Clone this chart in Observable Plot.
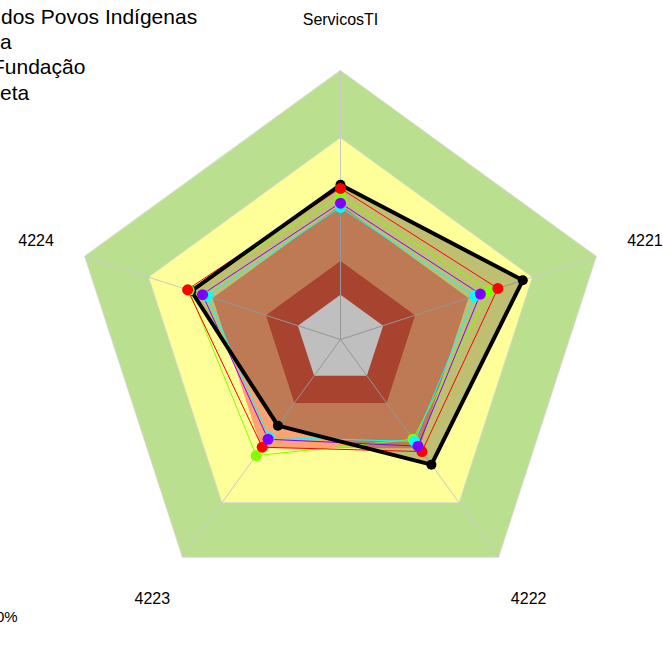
<!DOCTYPE html>
<html><head><meta charset="utf-8">
<script src="https://cdn.jsdelivr.net/npm/d3@7"></script>
<script src="https://cdn.jsdelivr.net/npm/@observablehq/plot@0.6"></script>
<style>
html,body{margin:0;padding:0;background:#fff;overflow:hidden}
#wrap{position:relative;width:663px;height:666px;overflow:hidden;font-family:"Liberation Sans",Arial,sans-serif}
#wrap svg{position:absolute;left:0;top:0}
.t{position:absolute;color:#000;white-space:nowrap;line-height:1;z-index:2}
</style></head><body><div id="wrap"></div>
<script>
// ---- data ----
const axes = ["ServicosTI", "4221", "4222", "4223", "4224"];
const seriesNames = ["Série preta", "Série verde", "Série vermelha", "Série ciano", "Série roxa"];
const seriesColors = ["#000000", "#80FF00", "#FF0000", "#00FFFF", "#8000FF"];
const blackVals  = [0.49, 0.655, 0.49, 0.275, 0.50];
const greenVals  = [0.438, 0.50, 0.35, 0.44, 0.51];
const redVals    = [0.474, 0.538, 0.418, 0.394, 0.517];
const cyanVals   = [0.389, 0.43, 0.362, 0.34, 0.425];
const purpleVals = [0.408, 0.456, 0.388, 0.35, 0.447];
const bandBreaks = [1.0, 0.7, 0.4, 0.15, 0.0];
const bandColors = ["#BAE08F", "#FFFF99", "#FDA372", "#DF5A3E", "#FFFFFF"];
const titleLines = ["dos Povos Indígenas", "a", "Fundação", "eta"];
const cornerNote = "0%";

// ---- geometry helpers (fmsb-like: value v at radius (1+5v)/6) ----
const rad = v => (1 + 5 * v) / 6;
const ang = i => (90 - 72 * i) * Math.PI / 180;
const pt = (i, r) => ({x: r * Math.cos(ang(i)), y: r * Math.sin(ang(i))});
const ring = (vals, extra = {}) => vals.map((v, i) => ({...pt(i, rad(v)), axis: axes[i], value: v, ...extra}));

const allVals = [blackVals, greenVals, redVals, cyanVals, purpleVals];
const seriesRows = allVals.map((vals, k) => ring(vals, {series: seriesNames[k]}));

const marks = [];
// background bands, outer to inner
bandBreaks.forEach((b, j) => {
  marks.push(Plot.line(ring(axes.map(() => b)), {
    x: "x", y: "y", curve: "linear-closed", fill: bandColors[j],
    stroke: j < 2 ? "#d6d6d6" : "none", strokeWidth: 0.8
  }));
});
// axis spokes
marks.push(Plot.link(axes.map((a, i) => ({a, ...pt(i, 1)})), {
  x1: () => 0, y1: () => 0, x2: "x", y2: "y", stroke: "#c8c8c8", strokeWidth: 1
}));
// black series translucent fill
marks.push(Plot.line(seriesRows[0], {x: "x", y: "y", curve: "linear-closed", fill: "black", fillOpacity: 0.25, stroke: "none"}));
// coloured series outlines
[1, 2, 3, 4].forEach(k => {
  marks.push(Plot.line(seriesRows[k], {x: "x", y: "y", curve: "linear-closed", stroke: seriesColors[k], strokeWidth: 1}));
});
// black outline
marks.push(Plot.line(seriesRows[0], {x: "x", y: "y", curve: "linear-closed", stroke: "black", strokeWidth: 4, strokeLinejoin: "miter"}));
// points
[0, 1, 2, 3, 4].forEach(k => {
  marks.push(Plot.dot(seriesRows[k], {x: "x", y: "y", r: k === 0 ? 5 : 5.5, fill: seriesColors[k], stroke: "none"}));
});
// axis labels
marks.push(Plot.text(axes.map((a, i) => ({a, ...pt(i, 1.19)})), {
  x: "x", y: "y", text: "a", fontSize: 16, fill: "black"
}));

const chart = Plot.plot({
  width: 663, height: 666, margin: 0,
  x: {domain: [-340 / 269, 323 / 269], axis: null},
  y: {domain: [-327 / 269, 339 / 269], axis: null},
  style: {fontFamily: "Liberation Sans, Arial, sans-serif", background: "white"},
  marks
});
const wrap = document.getElementById("wrap");
wrap.appendChild(chart);

// title lines (clipped at the left edge like the reference)
const titleLefts = [1, 0, -8, 0];
titleLines.forEach((s, i) => {
  const d = document.createElement("div");
  d.className = "t";
  d.style.fontSize = "21px";
  d.style.left = titleLefts[i] + "px";
  d.style.top = (6 + 25.2 * i) + "px";
  d.textContent = s;
  wrap.appendChild(d);
});
const n = document.createElement("div");
n.className = "t";
n.style.fontSize = "15px";
n.style.left = "-4px";
n.style.top = "609px";
n.textContent = cornerNote;
wrap.appendChild(n);
</script>
</body></html>
